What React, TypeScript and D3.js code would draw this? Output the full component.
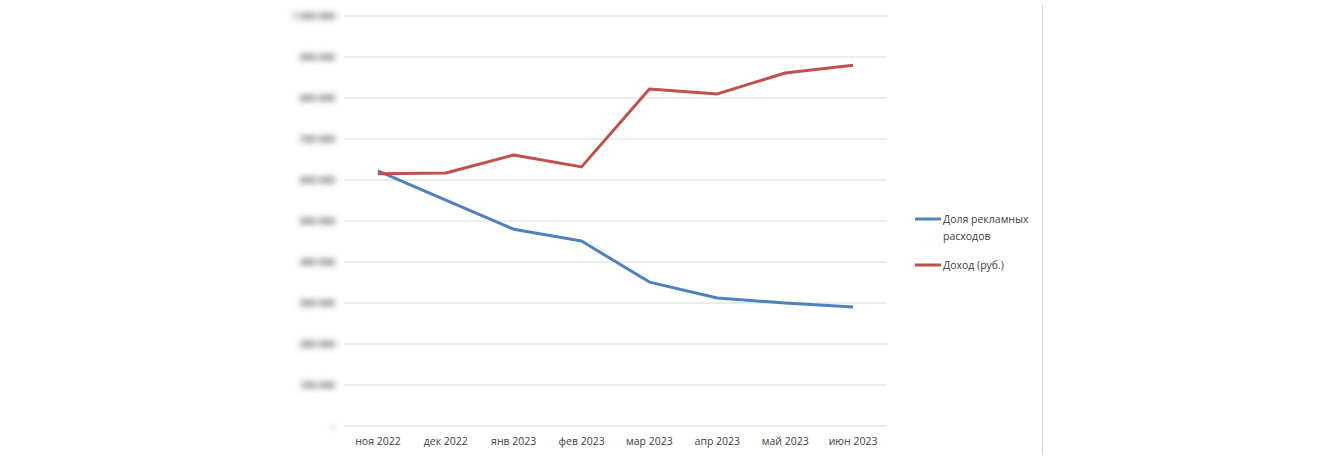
import React from "react";
import * as d3 from "d3";

const categories = ["ноя 2022", "дек 2022", "янв 2023", "фев 2023", "мар 2023", "апр 2023", "май 2023", "июн 2023"];
const adShare = [622000, 551000, 480000, 451000, 351000, 312000, 300000, 290000];
const income = [615000, 617000, 661000, 632000, 822000, 810000, 861000, 880000];
const yTicks = [0, 100000, 200000, 300000, 400000, 500000, 600000, 700000, 800000, 900000, 1000000];
const seriesNames = ["Доля рекламных расходов", "Доход (руб.)"];
const colors = ["#4f81bd", "#c0504d"];

const fmt = (v: number) => (v === 0 ? "-" : d3.format(",")(v).replace(/,/g, " "));

export default function App() {
  const x = d3.scaleBand<string>().domain(categories).range([344, 887]);
  const y = d3.scaleLinear().domain([0, 1000000]).range([426, 16]);
  const line = d3
    .line<number>()
    .x((_, i) => (x(categories[i]) as number) + x.bandwidth() / 2)
    .y((d) => y(d));
  const font = "'Open Sans', sans-serif";
  const series = [adShare, income];
  return (
    <svg width={1340} height={460} style={{ position: "absolute", left: 0, top: 0, background: "#fff" }}>
      <defs>
        <filter id="blur" x="-30%" y="-150%" width="160%" height="400%">
          <feGaussianBlur stdDeviation="3" />
        </filter>
      </defs>
      {yTicks.map((t) => (
        <line key={t} x1={344} x2={887} y1={y(t)} y2={y(t)} stroke="#d9d9d9" strokeWidth={1} />
      ))}
      <g filter="url(#blur)">
        {yTicks.map((t) => (
          <text key={t} x={335} y={y(t)} dy="0.35em" textAnchor="end" fontFamily={font} fontSize={9.5} fontWeight={700} fill="#404040">
            {fmt(t)}
          </text>
        ))}
      </g>
      {categories.map((c) => (
        <text key={c} x={(x(c) as number) + x.bandwidth() / 2} y={445} textAnchor="middle" fontFamily={font} fontSize={10.5} fill="#404040">
          {c}
        </text>
      ))}
      {series.map((s, i) => (
        <path key={i} d={line(s) || ""} fill="none" stroke={colors[i]} strokeWidth={3} strokeLinejoin="round" />
      ))}
      <line x1={915} x2={941} y1={219} y2={219} stroke={colors[0]} strokeWidth={3} />
      <text x={943} y={223} fontFamily={font} fontSize={10.5} fill="#404040">Доля рекламных</text>
      <text x={943} y={240} fontFamily={font} fontSize={10.5} fill="#404040">расходов</text>
      <line x1={915} x2={941} y1={265} y2={265} stroke={colors[1]} strokeWidth={3} />
      <text x={943} y={269} fontFamily={font} fontSize={10.5} fill="#404040">{seriesNames[1]}</text>
      <line x1={1042.5} x2={1042.5} y1={4} y2={455} stroke="#d9d9d9" strokeWidth={1} />
    </svg>
  );
}
